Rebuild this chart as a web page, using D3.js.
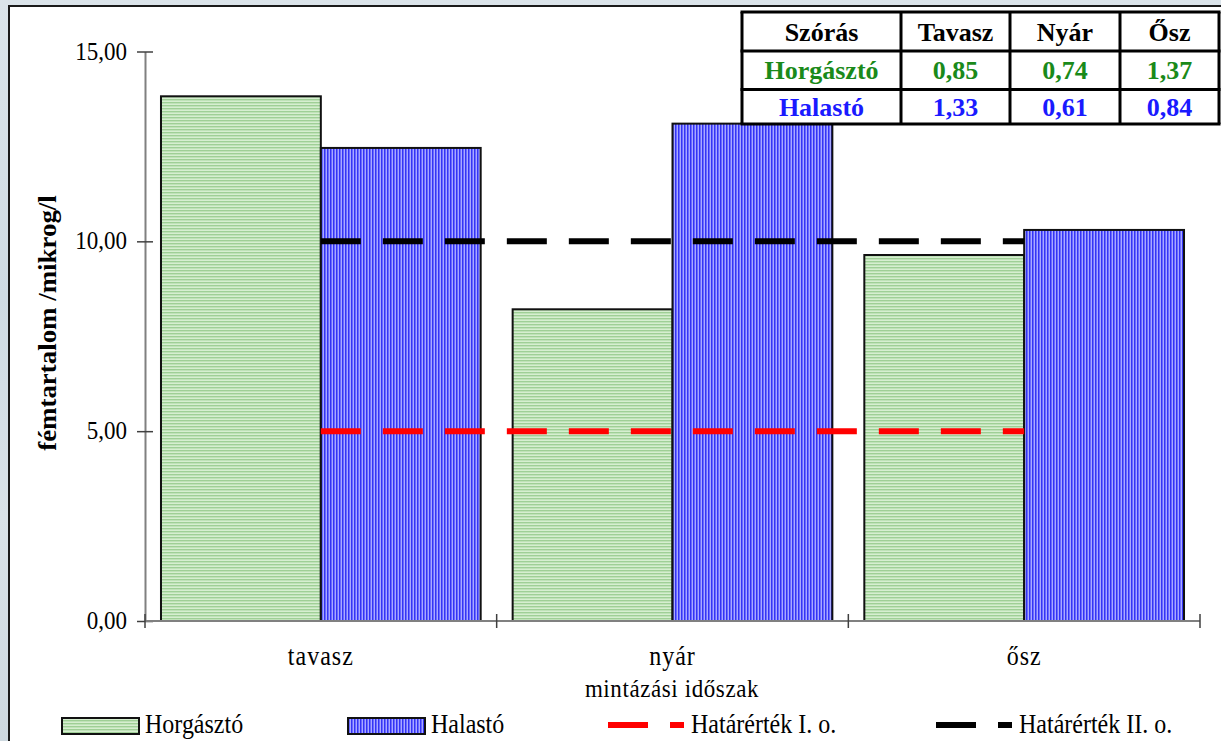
<!DOCTYPE html>
<html>
<head>
<meta charset="utf-8">
<script src="https://cdn.jsdelivr.net/npm/d3@7"></script>
<style>
  html, body { margin: 0; padding: 0; }
  body { width: 1221px; height: 741px; overflow: hidden;
         background: linear-gradient(180deg, #dbe4ea 0%, #cfdbe3 40%, #d9e2e8 70%, #cdd8df 100%); }
  svg { display: block; }
  text { font-family: "Liberation Serif", "Times New Roman", serif; }
</style>
</head>
<body>
<svg id="chart" width="1221" height="741"></svg>
<script>
// Seasonal metal content at two sampling sites
const categories = ["tavasz", "nyár", "ősz"];
const seriesNames = ["Horgásztó", "Halastó"];
const horgaszto = [13.82, 8.21, 9.64];
const halasto = [12.46, 13.10, 10.30];
const hatarertekI = [5, 5, 5];
const hatarertekII = [10, 10, 10];
const yTicks = [0, 5, 10, 15];

// Standard deviation table
const tableHeader = ["Szórás", "Tavasz", "Nyár", "Ősz"];
const szorasHorgaszto = ["0,85", "0,74", "1,37"];
const szorasHalasto = ["1,33", "0,61", "0,84"];

const svg = d3.select("#chart");

// white chart frame
svg.append("rect").attr("x", 9).attr("y", 6).attr("width", 1230).attr("height", 760)
  .attr("fill", "#ffffff").attr("stroke", "#1a1a1a").attr("stroke-width", 2);

// fill patterns
const defs = svg.append("defs");
const pg = defs.append("pattern").attr("id", "pat-green").attr("patternUnits", "userSpaceOnUse")
  .attr("width", 8).attr("height", 3);
pg.append("rect").attr("width", 8).attr("height", 3).attr("fill", "#d6eed0");
pg.append("rect").attr("y", 0).attr("width", 8).attr("height", 1).attr("fill", "#9fcf96");
pg.append("rect").attr("y", 1).attr("width", 8).attr("height", 1).attr("fill", "#bfe2b8");
const pb = defs.append("pattern").attr("id", "pat-blue").attr("patternUnits", "userSpaceOnUse")
  .attr("width", 3).attr("height", 8);
pb.append("rect").attr("width", 3).attr("height", 8).attr("fill", "#a9a9ff");
pb.append("rect").attr("x", 0).attr("width", 1).attr("height", 8).attr("fill", "#3434f4");
pb.append("rect").attr("x", 1).attr("width", 1).attr("height", 8).attr("fill", "#6a6aff");
const fills = ["url(#pat-green)", "url(#pat-blue)"];

// scales
const x0 = d3.scaleBand().domain(categories).range([145, 1200]).paddingInner(0).paddingOuter(0);
const x1 = d3.scaleBand().domain(seriesNames).range([0, x0.bandwidth()]).paddingInner(0).paddingOuter(0.1);
const y = d3.scaleLinear().domain([0, 15]).range([621, 51.5]);

// text with a slight vertical stretch
function label(parent, x, yPos, str, size, anchor, opts = {}) {
  const g = parent.append("g")
    .attr("transform", `translate(${x},${yPos}) ${opts.rotate ? "rotate(-90)" : ""} scale(${opts.sx || 1},${opts.sy || 1.1})`);
  const t = g.append("text").text(str)
    .attr("font-size", size).attr("text-anchor", anchor)
    .attr("fill", opts.fill || "#000")
    .attr("font-weight", opts.bold ? "bold" : "normal");
  if (opts.ls) t.attr("letter-spacing", opts.ls);
  return t;
}

// bars
const values = [horgaszto, halasto];
seriesNames.forEach((name, si) => {
  svg.append("g").selectAll("rect").data(categories).join("rect")
    .attr("x", c => x0(c) + x1(name))
    .attr("y", (c, i) => y(values[si][i]))
    .attr("width", x1.bandwidth())
    .attr("height", (c, i) => y(0) - y(values[si][i]))
    .attr("fill", fills[si])
    .attr("stroke", "#111").attr("stroke-width", 2);
});

// y axis
const yAxis = d3.axisLeft(y).tickValues(yTicks).tickSize(0).tickFormat("");
const ya = svg.append("g").attr("transform", "translate(145,0)").call(yAxis);
ya.select(".domain").attr("stroke", "#808080").attr("stroke-width", 2);
ya.selectAll(".tick").append("line").attr("x1", -8).attr("x2", 8)
  .attr("stroke", "#404040").attr("stroke-width", 1.5);
yTicks.forEach(v => {
  label(svg, 127, y(v) + 8, d3.format(".2f")(v).replace(".", ","), 23, "end");
});

// x axis
const xa = svg.append("g").attr("transform", "translate(0,621)");
xa.append("line").attr("x1", 145).attr("x2", 1200).attr("stroke", "#808080").attr("stroke-width", 2);
const bounds = categories.map(c => x0(c)).concat([x0.range()[1]]);
xa.selectAll("line.tick").data(bounds).join("line").attr("class", "tick")
  .attr("x1", d => d).attr("x2", d => d).attr("y1", -7).attr("y2", 7)
  .attr("stroke", "#404040").attr("stroke-width", 1.5);
categories.forEach(c => {
  label(svg, x0(c) + x0.bandwidth() / 2, 665, c, 24, "middle", { ls: "1px" });
});

// axis titles
label(svg, 672, 697, "mintázási időszak", 23, "middle", { ls: "0.6px" });
label(svg, 56, 323, "fémtartalom /mikrog/l", 23, "middle", { bold: true, rotate: true, sx: 1.17, sy: 1.05 });

// threshold lines
const lineGen = d3.line().x((d, i) => x0(categories[i]) + x0.bandwidth() / 2).y(d => y(d));
svg.append("path").datum(hatarertekI).attr("d", lineGen)
  .attr("fill", "none").attr("stroke", "#ff0000").attr("stroke-width", 6).attr("stroke-dasharray", "40,22");
svg.append("path").datum(hatarertekII).attr("d", lineGen)
  .attr("fill", "none").attr("stroke", "#000000").attr("stroke-width", 6).attr("stroke-dasharray", "40,22");

// table of standard deviations
const colX = [742, 901, 1010, 1120, 1219];
const rowY = [12, 51, 89.5, 124];
const tbl = svg.append("g");
tbl.append("rect").attr("x", colX[0]).attr("y", rowY[0]).attr("width", colX[4] - colX[0]).attr("height", rowY[3] - rowY[0])
  .attr("fill", "#fff");
const rows = [
  { cells: tableHeader, color: "#000000" },
  { cells: ["Horgásztó"].concat(szorasHorgaszto), color: "#1a8a1a" },
  { cells: ["Halastó"].concat(szorasHalasto), color: "#1a1aff" }
];
rows.forEach((r, ri) => {
  r.cells.forEach((txt, ci) => {
    const cx = (colX[ci] + colX[ci + 1]) / 2;
    const cy = (rowY[ri] + rowY[ri + 1]) / 2;
    tbl.append("text").text(txt).attr("x", cx).attr("y", cy + 9)
      .attr("text-anchor", "middle").attr("font-size", 26).attr("font-weight", "bold")
      .attr("fill", r.color);
  });
});
colX.forEach(cx => tbl.append("line").attr("x1", cx).attr("x2", cx).attr("y1", rowY[0]).attr("y2", rowY[3])
  .attr("stroke", "#000").attr("stroke-width", 3));
rowY.forEach(ry => tbl.append("line").attr("x1", colX[0] - 1.5).attr("x2", colX[4] + 1.5).attr("y1", ry).attr("y2", ry)
  .attr("stroke", "#000").attr("stroke-width", 3));

// legend
const legend = svg.append("g");
const legendItems = [
  { name: "Horgásztó", type: "bar", fill: fills[0], x: 62 },
  { name: "Halastó", type: "bar", fill: fills[1], x: 348 },
  { name: "Határérték I. o.", type: "line", color: "#ff0000", x: 608 },
  { name: "Határérték II. o.", type: "line", color: "#000000", x: 936 }
];
legendItems.forEach(it => {
  if (it.type === "bar") {
    legend.append("rect").attr("x", it.x).attr("y", 718).attr("width", 77).attr("height", 16)
      .attr("fill", it.fill).attr("stroke", "#111").attr("stroke-width", 2);
  } else {
    legend.append("line").attr("x1", it.x).attr("x2", it.x + 76).attr("y1", 725).attr("y2", 725)
      .attr("stroke", it.color).attr("stroke-width", 6).attr("stroke-dasharray", "40,22");
  }
  label(legend, it.x + 83, 733, it.name, 24, "start");
});
</script>
</body>
</html>
